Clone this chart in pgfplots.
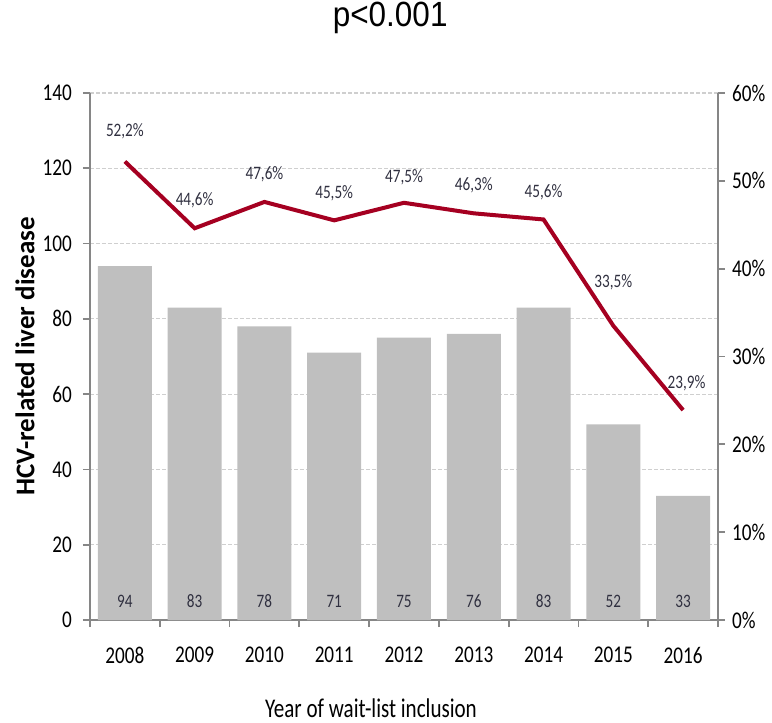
\documentclass[border=0pt]{standalone}
\usepackage{pgfplots}
\pgfplotsset{compat=1.18}
\usepackage{fontspec}
\setmainfont{Carlito}
\newfontfamily\arialf{Liberation Sans}
\usepackage{graphicx}
\definecolor{barc}{HTML}{BFBFBF}
\definecolor{linec}{HTML}{A50021}
\definecolor{axc}{HTML}{868686}
\definecolor{gridc}{HTML}{CFCFCF}
\definecolor{labc}{HTML}{303040}
\newcommand{\cz}[1]{\scalebox{0.8}[1]{#1}}
\begin{document}
\begin{tikzpicture}
\useasboundingbox (-45pt,-51.5pt) rectangle (341pt,310pt);
\begin{axis}[
  at={(0,0)}, anchor=south west,
  width=314pt, height=263.5pt, scale only axis,
  xmin=-0.5, xmax=8.5, ymin=0, ymax=140,
  axis x line*=bottom, axis y line*=left,
  axis line style={axc, line width=0.9pt, -},
  xtick={0,...,8},
  xticklabels={\cz{2008},\cz{2009},\cz{2010},\cz{2011},\cz{2012},\cz{2013},\cz{2014},\cz{2015},\cz{2016}},
  minor xtick={-0.5,0.5,1.5,2.5,3.5,4.5,5.5,6.5,7.5,8.5},
  major x tick style={draw=none},
  minor x tick style={axc, line width=0.9pt},
  ytick={0,20,...,140},
  yticklabels={\cz{0},\cz{20},\cz{40},\cz{60},\cz{80},\cz{100},\cz{120},\cz{140}},
  y tick style={axc, line width=0.9pt},
  tick align=outside,
  major tick length=3.5pt, minor tick length=3.5pt,
  ymajorgrids, grid style={gridc, dash pattern=on 2pt off 1pt, line width=0.6pt},
  tick label style={font=\fontsize{12}{14}\selectfont, text=black},
  xticklabel style={yshift=-6.5pt},
  yticklabel style={xshift=-2pt},
  ylabel={\textbf{HCV-related liver disease}},
  ylabel style={at={(axis description cs:-0.1035,0.5)}, anchor=center, font=\fontsize{13.5}{15}\selectfont},
  xlabel={\scalebox{0.78}[1]{Year of wait-list inclusion}},
  xlabel style={at={(axis description cs:0.4475,-0.167)}, anchor=center, font=\fontsize{13.5}{15}\selectfont},
  title={\scalebox{0.9}[1]{p<0.001}},
  title style={at={(axis description cs:0.478,1.1195)}, anchor=center, font=\arialf\fontsize{17.5}{19}\selectfont},
]
\addplot[ybar, bar width=27pt, fill=barc, draw=none] coordinates {
  (0,94) (1,83) (2,78) (3,71) (4,75) (5,76) (6,83) (7,52) (8,33)};
\addplot[draw=none, mark=none, point meta=explicit symbolic,
  nodes near coords={\cz{\pgfplotspointmeta}},
  every node near coord/.append style={anchor=center, font=\fontsize{9.5}{11}\selectfont, text=labc}]
  coordinates {
  (0,5)[94] (1,5)[83] (2,5)[78] (3,5)[71] (4,5)[75] (5,5)[76] (6,5)[83] (7,5)[52] (8,5)[33]};
\end{axis}
\begin{axis}[
  at={(0,0)}, anchor=south west,
  width=314pt, height=263.5pt, scale only axis,
  xmin=-0.5, xmax=8.5, ymin=0, ymax=60,
  axis x line=none, axis y line*=right,
  axis line style={axc, line width=0.9pt, -},
  ytick={0,10,...,60},
  yticklabels={\cz{0\%},\cz{10\%},\cz{20\%},\cz{30\%},\cz{40\%},\cz{50\%},\cz{60\%}},
  y tick style={axc, line width=0.9pt},
  tick align=outside, major tick length=3.5pt,
  tick label style={font=\fontsize{12}{14}\selectfont, text=black},
]
\addplot[linec, line width=2pt, mark=none] coordinates {
  (0,52.2) (1,44.6) (2,47.6) (3,45.5) (4,47.5) (5,46.3) (6,45.6) (7,33.5) (8,23.9)};
\addplot[draw=none, mark=none, point meta=explicit symbolic,
  nodes near coords={\cz{\pgfplotspointmeta}},
  every node near coord/.append style={anchor=center, font=\fontsize{9.5}{11}\selectfont, text=labc}]
  coordinates {
  (0,55.6)[52,2\%] (1,47.8)[44,6\%] (2,50.7)[47,6\%] (3,48.6)[45,5\%] (4,50.4)[47,5\%]
  (5,49.5)[46,3\%] (6,48.7)[45,6\%] (7,38.4)[33,5\%] (8.05,27.0)[23,9\%]};
\end{axis}
\end{tikzpicture}
\end{document}
